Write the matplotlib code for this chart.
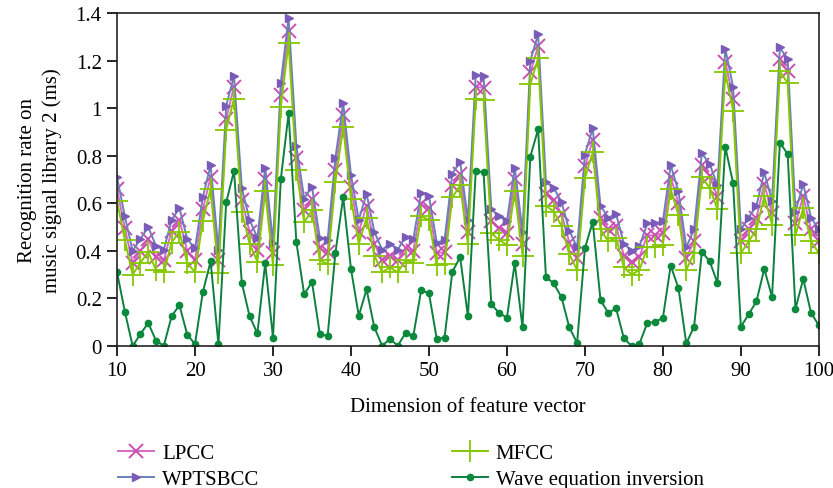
import matplotlib
matplotlib.use('Agg')
import matplotlib.pyplot as plt
import numpy as np

plt.rcParams['font.family'] = ['Liberation Serif', 'DejaVu Serif']
plt.rcParams['font.size'] = 15

dims = np.arange(10, 101)

wptsbcc = [0.71, 0.545, 0.40, 0.45, 0.50, 0.42, 0.405, 0.53, 0.58, 0.45,
           0.41, 0.625, 0.76, 0.405, 1.01, 1.135, 0.665, 0.53, 0.455, 0.75,
           0.435, 1.105, 1.38, 0.84, 0.62, 0.67, 0.455, 0.445, 0.79, 1.02,
           0.72, 0.53, 0.64, 0.48, 0.405, 0.43, 0.405, 0.46, 0.45, 0.645,
           0.63, 0.435, 0.445, 0.725, 0.775, 0.53, 1.14, 1.135, 0.575, 0.545,
           0.525, 0.75, 0.48, 1.20, 1.31, 0.69, 0.665, 0.605, 0.485, 0.415,
           0.805, 0.915, 0.59, 0.54, 0.555, 0.43, 0.40, 0.42, 0.515, 0.515,
           0.525, 0.76, 0.65, 0.415, 0.49, 0.81, 0.765, 0.675, 1.25, 1.09,
           0.49, 0.54, 0.59, 0.73, 0.61, 1.255, 1.205, 0.565, 0.68, 0.54, 0.49]

lpcc = [0.66, 0.495, 0.35, 0.40, 0.45, 0.375, 0.36, 0.485, 0.53, 0.40,
        0.36, 0.575, 0.71, 0.36, 0.955, 1.09, 0.615, 0.48, 0.405, 0.70,
        0.39, 1.055, 1.325, 0.79, 0.57, 0.62, 0.41, 0.395, 0.74, 0.97,
        0.67, 0.48, 0.59, 0.43, 0.36, 0.38, 0.36, 0.41, 0.40, 0.595,
        0.58, 0.39, 0.395, 0.675, 0.725, 0.48, 1.09, 1.085, 0.525, 0.495,
        0.475, 0.70, 0.43, 1.15, 1.26, 0.64, 0.615, 0.555, 0.435, 0.37,
        0.755, 0.865, 0.54, 0.49, 0.505, 0.38, 0.355, 0.375, 0.465, 0.465,
        0.475, 0.71, 0.60, 0.37, 0.44, 0.76, 0.715, 0.625, 1.195, 1.04,
        0.44, 0.49, 0.54, 0.68, 0.56, 1.205, 1.155, 0.515, 0.63, 0.49, 0.44]

mfcc = [0.61, 0.445, 0.30, 0.35, 0.395, 0.32, 0.31, 0.435, 0.48, 0.35,
        0.31, 0.525, 0.66, 0.305, 0.91, 1.04, 0.565, 0.43, 0.355, 0.65,
        0.34, 1.005, 1.275, 0.74, 0.52, 0.57, 0.36, 0.345, 0.69, 0.92,
        0.62, 0.43, 0.54, 0.38, 0.31, 0.33, 0.31, 0.36, 0.35, 0.545,
        0.53, 0.34, 0.345, 0.625, 0.675, 0.43, 1.04, 1.035, 0.475, 0.445,
        0.425, 0.65, 0.38, 1.10, 1.21, 0.59, 0.565, 0.505, 0.385, 0.32,
        0.705, 0.815, 0.49, 0.44, 0.455, 0.33, 0.30, 0.32, 0.415, 0.415,
        0.425, 0.66, 0.55, 0.32, 0.39, 0.71, 0.665, 0.575, 1.15, 0.99,
        0.39, 0.44, 0.49, 0.63, 0.51, 1.155, 1.105, 0.465, 0.58, 0.44, 0.39]

wave = [0.31, 0.145, 0.0, 0.05, 0.097, 0.022, 0.001, 0.125, 0.172, 0.048,
        0.008, 0.226, 0.356, 0.007, 0.604, 0.736, 0.265, 0.125, 0.053, 0.348,
        0.035, 0.70, 0.978, 0.436, 0.217, 0.269, 0.052, 0.041, 0.39, 0.626,
        0.324, 0.127, 0.238, 0.078, 0.001, 0.03, 0.001, 0.055, 0.043, 0.234,
        0.222, 0.03, 0.035, 0.312, 0.373, 0.125, 0.736, 0.73, 0.175, 0.139,
        0.119, 0.348, 0.078, 0.796, 0.911, 0.291, 0.263, 0.205, 0.078, 0.013,
        0.41, 0.523, 0.193, 0.139, 0.158, 0.032, 0.0, 0.01, 0.097, 0.101,
        0.118, 0.338, 0.243, 0.011, 0.081, 0.396, 0.356, 0.265, 0.838, 0.685,
        0.081, 0.133, 0.188, 0.324, 0.206, 0.855, 0.807, 0.156, 0.282, 0.139, 0.087]

fig = plt.figure(figsize=(8.33, 4.89), dpi=100)
ax = fig.add_axes([0.1405, 0.2904, 0.8425, 0.681])

ax.plot(dims, lpcc, color='#d66ac6', lw=1.4, marker='x', ms=10, mew=1.4,
        mec='#c850b4', label='LPCC')
ax.plot(dims, wptsbcc, color='#6b7fb8', lw=1.4, marker='>', ms=6,
        mfc='#7a5cb8', mec='#7a5cb8', label='WPTSBCC')
ax.plot(dims, mfcc, color='#86c800', lw=1.4, marker='+', ms=16, mew=1.3,
        label='MFCC')
ax.plot(dims, wave, color='#0d8040', lw=1.4, marker='o', ms=4.5,
        mfc='#0a8a3a', mec='#0a8a3a', label='Wave equation inversion')

ax.set_xlim(10, 100)
ax.set_ylim(0, 1.4)
ax.set_xticks(np.arange(10, 101, 10))
ax.set_yticks(np.arange(0, 1.41, 0.2))
ax.yaxis.set_major_formatter(plt.FuncFormatter(lambda v, p: '%g' % round(v, 2)))
ax.tick_params(direction='out', length=7, width=1.2, pad=4)
for s in ax.spines.values():
    s.set_linewidth(1.2)
    s.set_color('#222222')

ax.set_xlabel('Dimension of feature vector', labelpad=12)
ax.set_ylabel('Recognition rate on\nmusic signal library 2 (ms)', labelpad=10,
              linespacing=1.35)

leg = fig.legend(loc='upper left', bbox_to_anchor=(108 / 833, 1 - 434 / 489),
                 ncol=2, frameon=False, borderpad=0, handlelength=1.7,
                 handletextpad=0.4, labelspacing=0.3, columnspacing=9.25)

plt.savefig('out.png', dpi=100)
